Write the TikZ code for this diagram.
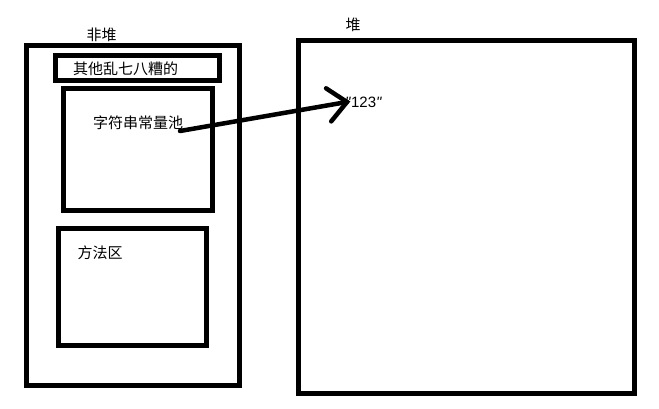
\documentclass[tikz,border=0pt]{standalone}
\usepackage{fontspec}
\newfontfamily\cjk{Noto Sans CJK SC}
\newfontfamily\lat{Liberation Sans}
\usetikzlibrary{calc}
\begin{document}
\begin{tikzpicture}[x=1pt,y=-1pt,
  region/.style={draw=black,line width=5pt,inner sep=0pt,outer sep=0pt,fill=none},
  lbl/.style={inner sep=0pt,font=\cjk\fontsize{15}{18}\selectfont},
  conn/.style={draw=black,line width=4.5pt,line cap=round}]
\useasboundingbox[fill=white] (0,0) rectangle (659,409);
% boxes
\node[region,minimum width=213pt,minimum height=340pt] (nonheap) at (133,215.5) {};
\node[region,minimum width=163.4pt,minimum height=25pt] (misc) at (137.5,68.3) {};
\node[region,minimum width=149.3pt,minimum height=122pt] (pool) at (137.9,149.5) {};
\node[region,minimum width=147.7pt,minimum height=117.3pt] (method) at (132.3,287.2) {};
\node[region,minimum width=336.3pt,minimum height=352.4pt] (heap) at (466.7,217) {};
% labels
\node[lbl] (nonheapt) at (101.7,35) {非堆};
\node[lbl] (heapt) at (353,25) {堆};
\node[lbl] (misct) at (125.5,69) {其他乱七八糟的};
\node[lbl] (poolt) at (138,123) {字符串常量池};
\node[lbl] (methodt) at (100,253) {方法区};
\node[inner sep=0pt,anchor=west,font=\lat\fontsize{15}{18}\selectfont] (str) at (345,102.5) {\textit{"}123\textit{"}};
% arrow
\coordinate (s) at (180,131);
\coordinate (t) at (347,102);
\draw[conn] (s) -- (t);
\draw[conn] ($(t)!25pt!41:(s)$) -- (t) -- ($(t)!25pt!-43:(s)$);
\end{tikzpicture}
\end{document}
